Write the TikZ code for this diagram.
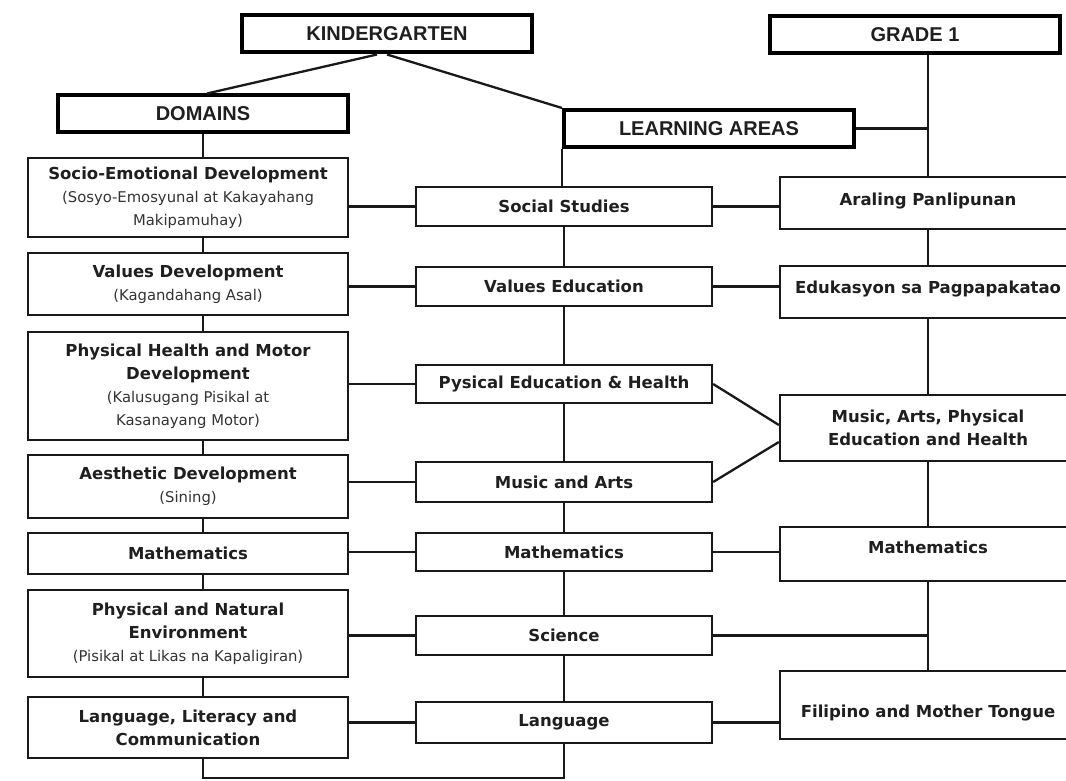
\documentclass[tikz,border=0pt]{standalone}
\usepackage{fontspec}
\setmainfont{DejaVu Sans}
\newfontfamily\headfont{Liberation Sans}
\usetikzlibrary{calc}
\tikzset{
  headbox/.style={draw=black,line width=4pt,fill=white,inner sep=0pt,
    minimum width=290pt,minimum height=37pt,text=black!88,
    font=\headfont\bfseries\fontsize{20}{22}\selectfont},
  basebox/.style={draw=black!90,line width=2.3pt,fill=white,inner sep=0pt,align=center,
    text=black!88,font=\bfseries\fontsize{16.5}{23}\selectfont},
  dombox/.style={basebox,minimum width=320pt},
  areabox/.style={basebox,minimum width=296pt},
  link/.style={draw=black!90,line width=2.3pt}
}
\newcommand{\tagalog}[1]{{\mdseries\fontsize{14.8}{20}\selectfont\color{black!80}#1}}
\newcommand{\nudge}[2]{\raisebox{#1}[\height][\depth]{#2}}

\begin{document}
\begin{tikzpicture}[x=1pt,y=-1pt]
  \useasboundingbox (0,0) rectangle (1066,781);

  % headers
  \node[headbox] (kg) at (387,34) {KINDERGARTEN};
  \node[headbox] (g1) at (915,35) {GRADE 1};
  \node[headbox] (dom) at (203,114) {DOMAINS};
  \node[headbox] (la) at (709,128.5) {LEARNING AREAS};

  % kindergarten domains
  \node[dombox,minimum height=79pt] (dsocio) at (188,197.5) {Socio-Emotional Development\\
    \tagalog{(Sosyo-Emosyunal at Kakayahang}\\\tagalog{Makipamuhay)}};
  \node[dombox,minimum height=62pt] (dvalues) at (188,284) {Values Development\\
    \tagalog{(Kagandahang Asal)}};
  \node[dombox,minimum height=108pt] (dphys) at (188,386) {Physical Health and Motor\\Development\\
    \tagalog{(Kalusugang Pisikal at}\\\tagalog{Kasanayang Motor)}};
  \node[dombox,minimum height=63pt] (daesth) at (188,486.5) {Aesthetic Development\\
    \tagalog{(Sining)}};
  \node[dombox,minimum height=41pt] (dmath) at (188,553.5) {Mathematics};
  \node[dombox,minimum height=87pt] (dnat) at (188,633.5) {Physical and Natural\\Environment\\
    \tagalog{(Pisikal at Likas na Kapaligiran)}};
  \node[dombox,minimum height=61pt] (dlang) at (188,727.5) {Language, Literacy and\\Communication};

  % kindergarten learning areas
  \node[areabox,minimum height=39pt] (ss) at (564,206.5) {Social Studies};
  \node[areabox,minimum height=39pt] (ve) at (564,286.5) {Values Education};
  \node[areabox,minimum height=38pt] (pe) at (564,384) {Pysical Education \& Health};
  \node[areabox,minimum height=40pt] (ma) at (564,482) {Music and Arts};
  \node[areabox,minimum height=38pt] (lmath) at (564,552) {Mathematics};
  \node[areabox,minimum height=39pt] (sci) at (564,635.5) {Science};
  \node[areabox,minimum height=41pt] (lang) at (564,722.5) {Language};

  % grade 1 learning areas
  \node[areabox,minimum height=52pt] (ap) at (928,203) {\nudge{2pt}{Araling Panlipunan}};
  \node[areabox,minimum height=52pt] (esp) at (928,292) {\nudge{3pt}{Edukasyon sa Pagpapakatao}};
  \node[areabox,minimum height=66pt] (mapeh) at (928,428) {Music, Arts, Physical\\Education and Health};
  \node[areabox,minimum height=54pt] (gmath) at (928,554) {\nudge{7pt}{Mathematics}};
  \node[areabox,minimum height=68pt] (fil) at (928,705) {\nudge{-8pt}{Filipino and Mother Tongue}};

  \coordinate (floor) at (0,778);

  % tree from the top
  \draw[link] ([xshift=-10pt]kg.south) -- ([xshift=4pt]dom.north);
  \draw[link] (kg.south) -- (la.north west);
  \draw[link] (g1.south -| ap.north) -- (ap.north);
  \draw[link] (la.east) -- (la.east -| ap.north);

  % columns
  \draw[link] (dom.south) -- (dsocio.north -| dom.south);
  \foreach \a/\b in {dsocio/dvalues,dvalues/dphys,dphys/daesth,daesth/dmath,dmath/dnat,dnat/dlang}
    \draw[link] (\a.south -| dom.south) -- (\b.north -| dom.south);
  \draw[link] (la.south west) -- (la.south west |- ss.north);
  \foreach \a/\b in {ss/ve,ve/pe,pe/ma,ma/lmath,lmath/sci,sci/lang}
    \draw[link] (\a.south) -- (\b.north);
  \foreach \a/\b in {ap/esp,esp/mapeh,mapeh/gmath,gmath/fil}
    \draw[link] (\a.south) -- (\b.north);
  \draw[link] (lang.south) -- (lang.south |- floor) -| (dlang.south -| dom.south);

  % domains to learning areas
  \foreach \a/\b in {dsocio/ss,dvalues/ve,dphys/pe,daesth/ma,dmath/lmath,dnat/sci,dlang/lang}
    \draw[link] (\a.east |- \b.west) -- (\b.west);

  % kindergarten to grade 1
  \foreach \a/\b in {ss/ap,ve/esp,lmath/gmath,lang/fil}
    \draw[link] (\a.east) -- (\a.east -| \b.west);
  \draw[link] (pe.east) -- ([yshift=3pt]mapeh.west);
  \draw[link] (ma.east) -- ([yshift=-14pt]mapeh.west);
  \draw[link] (sci.east) -- (sci.east -| gmath.south);
\end{tikzpicture}
\end{document}
